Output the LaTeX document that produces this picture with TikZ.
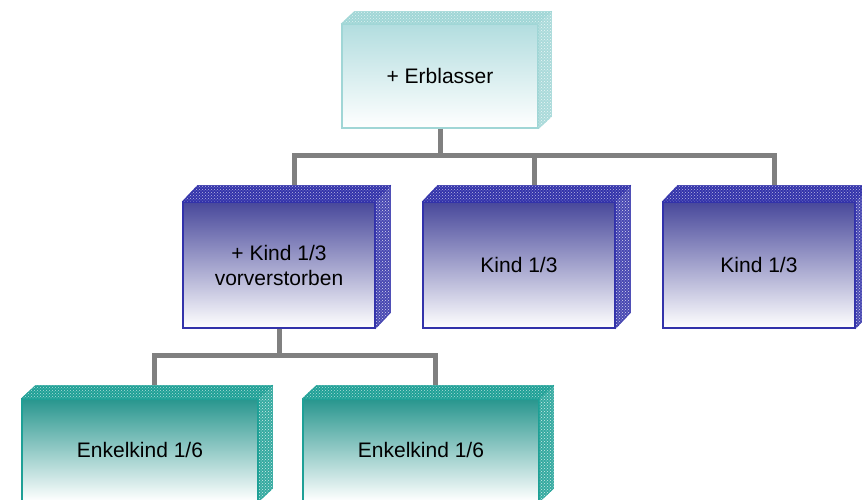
\documentclass[tikz,border=0pt]{standalone}
\usepackage{fontspec}
\setmainfont{Liberation Sans}
\usetikzlibrary{patterns}
\definecolor{cErb}{RGB}{178,221,223}
\definecolor{cErbLine}{RGB}{160,214,214}
\definecolor{cKind}{RGB}{72,72,155}
\definecolor{cKindLine}{RGB}{50,50,170}
\definecolor{cEnk}{RGB}{40,150,142}
\definecolor{cEnkLine}{RGB}{30,160,150}

% top and side face of a box: node, dx, dy, colour
\newcommand{\cubefaces}[4]{%
  \filldraw[draw=#4, fill=#4, postaction={pattern=crosshatch dots, pattern color=white!65!#4}]
    (#1.north west) -- ++(#2,#3) -- ([shift={(#2,#3)}]#1.north east) -- (#1.north east) -- cycle;
  \filldraw[draw=#4, fill=#4!90!white, postaction={pattern=crosshatch dots, pattern color=white!80!#4}]
    (#1.north east) -- ++(#2,#3) -- ([shift={(#2,#3)}]#1.south east) -- (#1.south east) -- cycle;
}

\begin{document}
\begin{tikzpicture}[x=1pt,y=-1pt,
    conn/.style={draw=black!50, line width=5pt},
    front/.style={line width=1.2pt, bottom color=white, align=center, inner sep=0pt,
      font=\fontsize{21}{25}\selectfont},
    erbbox/.style={front, draw=cErbLine, top color=cErb, minimum width=196pt, minimum height=104pt},
    kindbox/.style={front, draw=cKindLine, top color=cKind, minimum width=192pt, minimum height=126pt},
    enkbox/.style={front, draw=cEnkLine, top color=cEnk, minimum width=236pt, minimum height=102pt}]
    \useasboundingbox (0,0) rectangle (862,500);
    \clip (0,0) rectangle (862,500);

    % erblasser
    \node[erbbox] (erb) at (440,76) {+ Erblasser};
    \cubefaces{erb}{13}{-12}{cErbLine}

    % kinder
    \node[kindbox] (k1) at (279,265) {+ Kind 1/3\\vorverstorben};
    \cubefaces{k1}{15}{-16}{cKindLine}
    \node[kindbox] (k2) at (519,265) {Kind 1/3};
    \cubefaces{k2}{15}{-16}{cKindLine}
    \node[kindbox] (k3) at (759,265) {Kind 1/3};
    \cubefaces{k3}{15}{-16}{cKindLine}

    % enkel
    \node[enkbox] (e1) at (140,450) {Enkelkind 1/6};
    \cubefaces{e1}{14}{-13}{cEnkLine}
    \node[enkbox] (e2) at (421,450) {Enkelkind 1/6};
    \cubefaces{e2}{14}{-13}{cEnkLine}

    \coordinate (k1top) at ([shift={(15,-16)}]k1.north);
    \coordinate (k2top) at ([shift={(15,-16)}]k2.north);
    \coordinate (k3top) at ([shift={(15,-16)}]k3.north);
    \coordinate (e1top) at ([shift={(14,-13)}]e1.north);
    \coordinate (e2top) at ([shift={(14,-13)}]e2.north);

    \draw[conn] (erb.south) -- ++(0,27) coordinate (bar);
    \draw[conn] (k1top) |- (bar) -| (k3top);
    \draw[conn] (k2top) -- (k2top |- bar);
    \draw[conn] (k1.south) -- ++(0,27) coordinate (bar2);
    \draw[conn] (e1top) |- (bar2) -| (e2top);
\end{tikzpicture}
\end{document}
